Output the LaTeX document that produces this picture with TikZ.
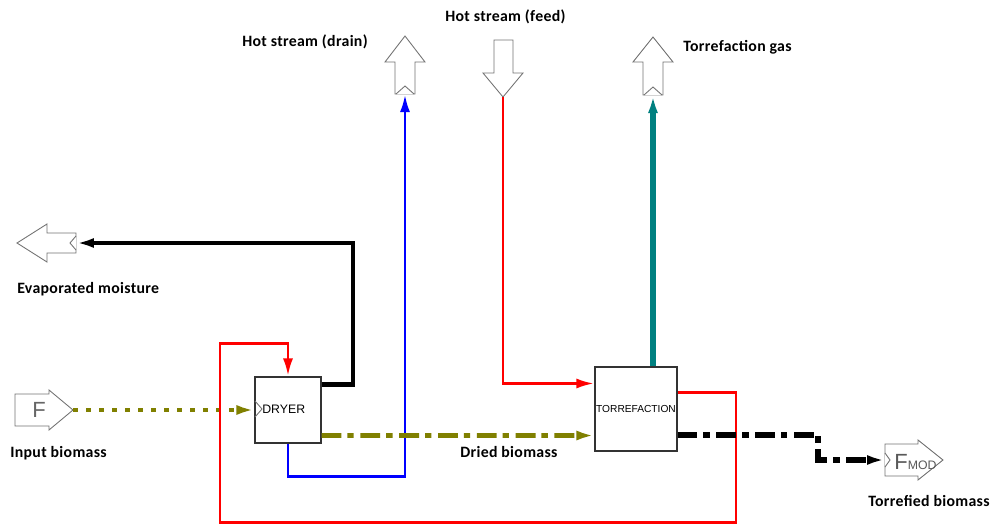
\documentclass[tikz,border=0pt]{standalone}
\usepackage{fontspec}
\setmainfont{Liberation Sans}
\newfontfamily\lblfont{Carlito}[LetterSpace=2]
\usetikzlibrary{arrows.meta,calc}
\definecolor{biomass}{HTML}{808000}
\definecolor{gas}{HTML}{008080}

\begin{document}
\begin{tikzpicture}[x=0.02cm,y=-0.02cm,
  unit/.style={draw=black!80,fill=white,line width=0.6pt,inner sep=0pt},
  portshape/.style={draw=black!55,fill=white,line width=0.5pt},
  lbl/.style={font=\lblfont\bfseries\fontsize{9}{11}\selectfont,anchor=west,inner sep=0pt},
  flow/.style={line width=#1,-{Latex[length=3.6mm,width=2mm]}},
  dashdot/.style={dash pattern=on 11.3pt off 3.4pt on 3.6pt off 3.8pt}]
  \useasboundingbox (0,0) rectangle (1002,525);

  % blocks
  \node[unit,minimum width=1.32cm,minimum height=1.32cm] (dryer) at (288,410) {};
  \node[font=\fontsize{7}{8}\selectfont,anchor=west,inner sep=0pt] (dryertxt) at (262,409) {DRYER};
  \draw[draw=black!55,line width=0.5pt] (255,401) -- (262,409) -- (255,417);
  \node[unit,minimum width=1.64cm,minimum height=1.68cm,font=\fontsize{5.8}{7}\selectfont] (torr) at (636,409) {TORREFACTION};

  % feed and product ports
  \draw[portshape] (15,394) -- (49,394) -- (49,390) -- (73,410) -- (49,430) -- (49,426) -- (15,426) -- cycle;
  \node[font=\fontsize{12.5}{13}\selectfont,text=black!60] (ftxt) at (39,410) {F};
  \coordinate (inB) at (73,410);

  \draw[portshape] (17,243) -- (47,224) -- (47,233) -- (76,233) -- (76,253) -- (47,253) -- (47,262) -- cycle;
  \draw[portshape] (76,236) -- (70,243) -- (76,250);
  \coordinate (moist) at (76,243);

  \draw[portshape] (405,36) -- (425,62) -- (415,62) -- (415,94) -- (395,94) -- (395,62) -- (385,62) -- cycle;
  \draw[portshape] (396,94) -- (405,86) -- (414,94);
  \coordinate (drain) at (405,94);

  \draw[portshape] (494,40) -- (513,40) -- (513,73) -- (523,73) -- (503,97) -- (483,73) -- (494,73) -- cycle;
  \coordinate (hfeed) at (503,97);

  \draw[portshape] (653,37) -- (673,62) -- (663,62) -- (663,95) -- (643,95) -- (643,62) -- (633,62) -- cycle;
  \draw[portshape] (644,95) -- (653,87) -- (662,95);
  \coordinate (tgas) at (653,95);

  \draw[portshape] (885,444) -- (918,444) -- (918,440) -- (943,460) -- (918,480) -- (918,476) -- (885,476) -- cycle;
  \draw[portshape] (885,453) -- (890,460) -- (885,467);
  \node[anchor=base west,inner sep=0pt,text=black!65] (fmodtxt) at (894,469) {{\fontsize{12.5}{13}\selectfont F}{\fontsize{7}{8}\selectfont MOD}};
  \coordinate (fmod) at (885,460);

  % streams
  \draw[flow=2.8pt,biomass,dash pattern=on 2.8pt off 4.6pt] (inB) -- (dryer.west);
  \draw[flow=2.8pt,black] ($(dryer.north east)+(0,8)$) -| (353,243) -- (moist);
  \draw[flow=1.7pt,blue] (dryer.south) |- (405,476) -- (drain);
  \draw[flow=1.7pt,red] (hfeed) |- ($(torr.north west)+(0,17)$);
  \draw[flow=1.7pt,red] ($(torr.north east)+(0,26)$) -| (736,522) -| (220,343) -| (dryer.north);
  \draw[flow=3.4pt,gas] (torr.north -| tgas) -- (tgas);
  \draw[flow=2.8pt,biomass,dashdot] ($(dryer.south east)+(0,-8)$) -- ($(torr.south west)+(0,-16)$);
  \draw[flow=3.4pt,black,dashdot] ($(torr.south east)+(0,-17)$) -| (818,460) -- (fmod);

  % labels
  \node[lbl] (l1) at (242,42) {Hot stream (drain)};
  \node[lbl] (l2) at (445,17) {Hot stream (feed)};
  \node[lbl] (l3) at (683,47) {Torrefaction gas};
  \node[lbl] (l4) at (17,289) {Evaporated moisture};
  \node[lbl] (l5) at (10,453) {Input biomass};
  \node[lbl] (l6) at (460,452) {Dried biomass};
  \node[lbl] (l7) at (868,501) {Torrefied biomass};
\end{tikzpicture}
\end{document}
